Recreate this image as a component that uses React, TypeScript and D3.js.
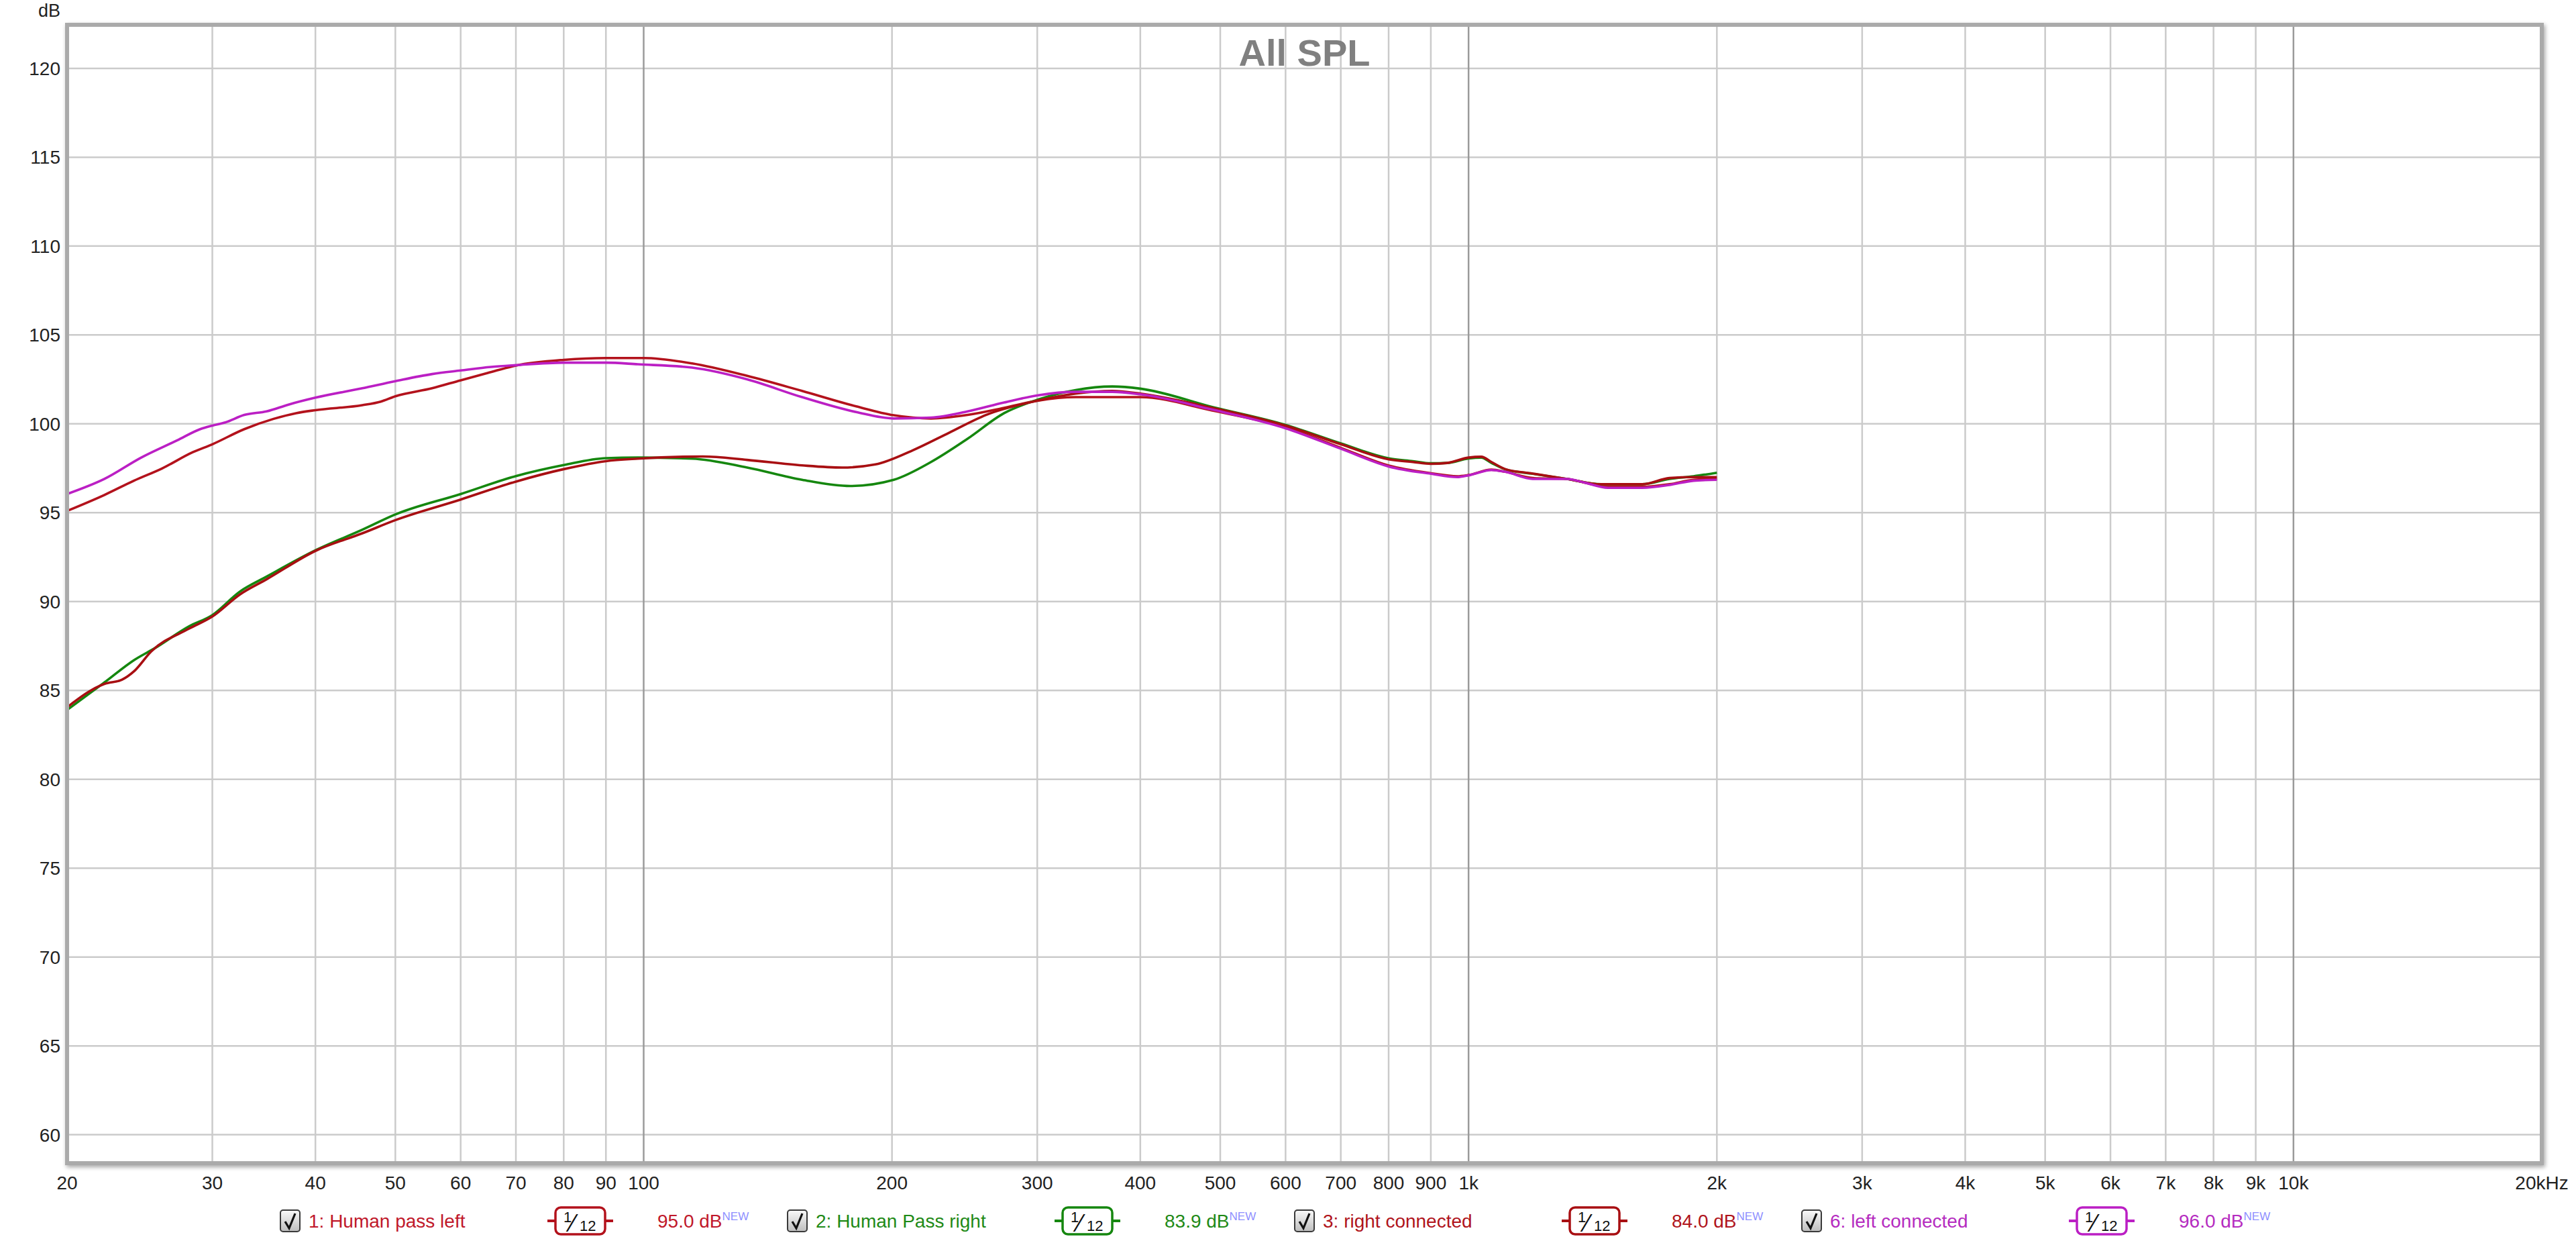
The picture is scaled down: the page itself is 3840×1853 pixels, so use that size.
import React from "react";
import * as d3 from "d3";

// ---------- data ----------
const s1Freq = [20, 22.2, 24.1, 26.1, 28.4, 30, 32.8, 35.6, 37.9, 40, 45.6, 48, 50, 55.4, 60, 64.7, 70, 80, 90, 100, 114.5, 133.5, 155.6, 181, 201, 223, 247, 273.5, 300, 334, 370, 400, 489, 600, 700, 800, 900, 969, 1000, 1066, 1108, 1196, 1316, 1380, 1476, 1624, 1752, 1874, 2000];
const s1Db = [95.1, 96.0, 96.8, 97.5, 98.4, 98.85, 99.7, 100.28, 100.6, 100.77, 101.05, 101.25, 101.55, 102.0, 102.45, 102.86, 103.28, 103.6, 103.7, 103.7, 103.4, 102.7, 101.85, 100.98, 100.48, 100.3, 100.5, 100.9, 101.3, 101.5, 101.5, 101.5, 100.75, 99.8, 98.65, 97.65, 97.22, 97.05, 97.12, 97.42, 97.3, 96.95, 96.9, 96.7, 96.45, 96.45, 96.6, 96.85, 96.9];

const s2Freq = [20, 22.2, 24.1, 25.6, 28.1, 30, 32.4, 34.9, 40, 45.6, 50, 60, 70, 80, 90, 98.4, 114.5, 133.5, 155.6, 178, 201, 223, 247, 273.5, 300, 334, 370, 400, 489, 600, 700, 800, 856, 900, 942, 1000, 1036, 1066, 1108, 1196, 1316, 1448, 1624, 1752, 1874, 2000];
const s2Db = [83.9, 85.45, 86.7, 87.4, 88.6, 89.24, 90.56, 91.4, 92.88, 94.04, 94.9, 96.05, 97.06, 97.68, 98.07, 98.1, 98.04, 97.54, 96.85, 96.5, 96.85, 97.85, 99.16, 100.6, 101.35, 101.9, 102.1, 101.98, 100.95, 99.94, 98.9, 98.06, 97.9, 97.78, 97.8, 98.05, 98.1, 97.8, 97.44, 97.19, 96.9, 96.6, 96.6, 96.9, 97.05, 97.25];

const s3Freq = [20, 22.2, 23.3, 24.1, 25.3, 28.1, 30, 32.4, 34.9, 40, 45.6, 50, 60, 70, 80, 90, 98.4, 118, 133.5, 155.6, 174, 191, 211.7, 234.6, 260, 300, 334, 370, 400, 489, 600, 700, 800, 856, 900, 942, 1000, 1036, 1066, 1108, 1196, 1316, 1448, 1624, 1752, 1874, 2000];
const s3Db = [84.05, 85.37, 85.6, 86.07, 87.2, 88.47, 89.16, 90.4, 91.25, 92.85, 93.84, 94.58, 95.74, 96.75, 97.45, 97.9, 98.04, 98.16, 97.97, 97.66, 97.54, 97.72, 98.5, 99.5, 100.5, 101.3, 101.7, 101.85, 101.7, 100.9, 99.9, 98.85, 98.0, 97.85, 97.75, 97.8, 98.1, 98.15, 97.85, 97.45, 97.2, 96.9, 96.6, 96.6, 96.95, 97.0, 97.0];

const s6Freq = [20, 22.2, 24.6, 27.2, 29.0, 30, 31.1, 32.8, 34.9, 37.1, 40, 45.6, 50, 55.4, 60, 65.3, 70, 80, 90, 98.4, 114.5, 133.5, 155.6, 181, 201, 223, 247, 273.5, 300, 334, 370, 400, 489, 600, 700, 800, 900, 969, 1000, 1066, 1108, 1196, 1316, 1380, 1476, 1624, 1752, 1874, 2000];
const s6Db = [96.05, 96.9, 98.1, 99.07, 99.7, 99.9, 100.08, 100.5, 100.7, 101.08, 101.47, 102.0, 102.4, 102.8, 103.0, 103.2, 103.3, 103.44, 103.44, 103.35, 103.16, 102.5, 101.5, 100.66, 100.3, 100.35, 100.7, 101.2, 101.6, 101.8, 101.8, 101.66, 100.8, 99.75, 98.6, 97.6, 97.19, 97.0, 97.1, 97.4, 97.3, 96.9, 96.9, 96.7, 96.4, 96.4, 96.56, 96.8, 96.85];

const seriesNames = ["1: Human pass left", "2: Human Pass right", "3: right connected", "6: left connected"];
const seriesOffsets = ["95.0 dB", "83.9 dB", "84.0 dB", "96.0 dB"];
const seriesColors = ["#b3121c", "#15870f", "#a80f12", "#bb1fc4"];
const legendTextColors = ["#c0182a", "#1f8a17", "#b0141c", "#b52cc0"];

const yTicks = [60, 65, 70, 75, 80, 85, 90, 95, 100, 105, 110, 115, 120];
const xGrid = [30, 40, 50, 60, 70, 80, 90, 200, 300, 400, 500, 600, 700, 800, 900, 2000, 3000, 4000, 5000, 6000, 7000, 8000, 9000];
const xMajor = [100, 1000, 10000];
const xLabels: [number, string][] = [
  [20, "20"], [30, "30"], [40, "40"], [50, "50"], [60, "60"], [70, "70"], [80, "80"], [90, "90"], [100, "100"],
  [200, "200"], [300, "300"], [400, "400"], [500, "500"], [600, "600"], [700, "700"], [800, "800"], [900, "900"], [1000, "1k"],
  [2000, "2k"], [3000, "3k"], [4000, "4k"], [5000, "5k"], [6000, "6k"], [7000, "7k"], [8000, "8k"], [9000, "9k"], [10000, "10k"], [20000, "20kHz"],
];

const title = "All SPL";

// ---------- layout ----------
const W = 3840, H = 1853;
const L = 100, R = 3789, T = 37, B = 1734;
const FONT = "'Liberation Sans', Arial, sans-serif";

export default function App() {
  const x = d3.scaleLog().domain([20, 20000]).range([L, R]);
  const y = d3.scaleLinear().domain([58.4, 122.45]).range([B, T]);

  const series = [
    { f: s1Freq, v: s1Db },
    { f: s2Freq, v: s2Db },
    { f: s3Freq, v: s3Db },
    { f: s6Freq, v: s6Db },
  ];
  const line = d3
    .line<[number, number]>()
    .x((d) => x(d[0]))
    .y((d) => y(d[1]))
    .curve(d3.curveMonotoneX);

  const legendX0 = 418, legendStride = 756, legendY = 1820;

  return (
    <svg width={W} height={H} style={{ position: "absolute", left: 0, top: 0, background: "#fff" }} fontFamily={FONT}>
      <defs>
        <filter id="shadow" x="-5%" y="-5%" width="110%" height="110%">
          <feGaussianBlur in="SourceAlpha" stdDeviation="3" />
          <feOffset dx="2" dy="3" result="b" />
          <feComponentTransfer><feFuncA type="linear" slope="0.35" /></feComponentTransfer>
          <feMerge><feMergeNode /><feMergeNode in="SourceGraphic" /></feMerge>
        </filter>
        <linearGradient id="cb" x1="0" y1="0" x2="0" y2="1">
          <stop offset="0" stopColor="#fafafa" />
          <stop offset="1" stopColor="#bdbdbd" />
        </linearGradient>
        <clipPath id="plotclip"><rect x={L} y={T} width={R - L} height={B - T} /></clipPath>
      </defs>
      <rect x={0} y={0} width={W} height={H} fill="#fff" />

      {/* frame shadow */}
      <rect x={L} y={T} width={R - L} height={B - T} fill="#fff" stroke="#b4b4b4" strokeWidth={6} filter="url(#shadow)" />

      {/* horizontal grid */}
      {yTicks.map((t) => (
        <line key={"h" + t} x1={L} x2={R} y1={y(t)} y2={y(t)} stroke="#cbcbcb" strokeWidth={2.5} />
      ))}
      {/* vertical grid */}
      {xGrid.map((f) => (
        <line key={"v" + f} x1={x(f)} x2={x(f)} y1={T} y2={B} stroke="#cbcbcb" strokeWidth={2.5} />
      ))}
      {xMajor.map((f) => (
        <line key={"m" + f} x1={x(f)} x2={x(f)} y1={T} y2={B} stroke="#9a9a9a" strokeWidth={2.5} />
      ))}

      {/* title */}
      <text x={(L + R) / 2} y={98} textAnchor="middle" fontSize={56} fontWeight="bold" fill="#808080">{title}</text>

      {/* curves */}
      <g clipPath="url(#plotclip)">
        {series.map((s, i) => (
          <path
            key={"s" + i}
            d={line(s.f.map((f, j) => [f, s.v[j]] as [number, number])) || ""}
            fill="none"
            stroke={seriesColors[i]}
            strokeWidth={3.6}
            strokeLinejoin="round"
          />
        ))}
      </g>

      {/* frame border */}
      <rect x={L} y={T} width={R - L} height={B - T} fill="none" stroke="#aaaaaa" strokeWidth={6} />

      {/* y labels */}
      <text x={90} y={25} textAnchor="end" fontSize={27} fill="#222">dB</text>
      {yTicks.map((t) => (
        <text key={"yl" + t} x={90} y={y(t) + 10} textAnchor="end" fontSize={28} fill="#222">{t}</text>
      ))}
      {/* x labels */}
      {xLabels.map(([f, s]) => (
        <text key={"xl" + f} x={x(f)} y={1773} textAnchor="middle" fontSize={28} fill="#222">{s}</text>
      ))}

      {/* legend */}
      {seriesNames.map((name, i) => {
        const x0 = legendX0 + i * legendStride;
        const c = seriesColors[i];
        const tc = legendTextColors[i];
        return (
          <g key={"lg" + i}>
            <rect x={x0} y={legendY - 16} width={29} height={32} rx={4} fill="url(#cb)" stroke="#3a3a3a" strokeWidth={2} />
            <path d={`M${x0 + 7},${legendY + 1} L${x0 + 13},${legendY + 11} L${x0 + 22},${legendY - 11}`} fill="none" stroke="#111" strokeWidth={3.2} />
            <text x={x0 + 42} y={legendY + 10} fontSize={28} fill={tc}>{name}</text>
            <line x1={x0 + 398} x2={x0 + 496} y1={legendY} y2={legendY} stroke={c} strokeWidth={4} />
            <rect x={x0 + 410} y={legendY - 20} width={74} height={40} rx={8} fill="#fff" stroke={c} strokeWidth={3.5} />
            <text x={x0 + 422} y={legendY + 2} fontSize={22} fill="#111">1</text>
            <text x={x0 + 433} y={legendY + 16} fontSize={36} fill="#111">⁄</text>
            <text x={x0 + 446} y={legendY + 15} fontSize={22} fill="#111">12</text>
            <text x={x0 + 562} y={legendY + 10} fontSize={28} fill={tc}>
              {seriesOffsets[i]}
              <tspan fontSize={17} dy={-11} fill="#8f8fff">NEW</tspan>
            </text>
          </g>
        );
      })}
    </svg>
  );
}
